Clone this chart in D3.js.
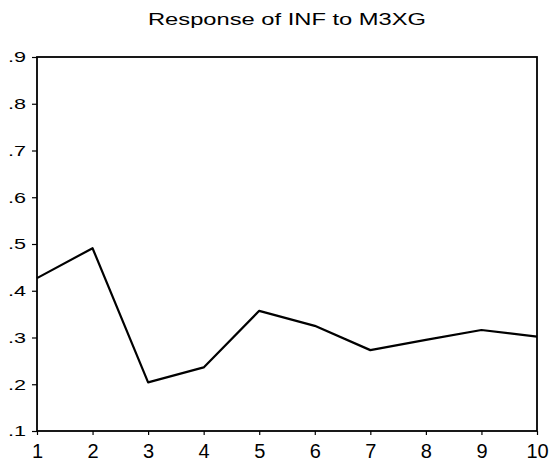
<!DOCTYPE html>
<html>
<head>
<meta charset="utf-8">
<script src="https://cdn.jsdelivr.net/npm/d3@7"></script>
<style>
  body { margin: 0; background: #fff; }
  svg { display: block; }
</style>
</head>
<body>
<script>
// impulse response values
let periods = [1, 2, 3, 4, 5, 6, 7, 8, 9, 10];
let response = [0.427, 0.491, 0.204, 0.236, 0.357, 0.325, 0.273, 0.295, 0.316, 0.302];
let yTicks = [0.1, 0.2, 0.3, 0.4, 0.5, 0.6, 0.7, 0.8, 0.9];
let title = 'Response of INF to M3XG';

let width = 550,
    height = 465;

let margin = { top: 57, bottom: 34, left: 37, right: 13 };

let svg = d3.select('body')
  .append('svg')
    .attr('width', width)
    .attr('height', height)
    .style('background', '#fff')
    .style('font-family', 'Arial, "Liberation Sans", sans-serif');

let xScale = d3.scaleLinear()
  .domain([1, 10])
  .range([margin.left, width - margin.right]);

let yScale = d3.scaleLinear()
  .domain([0.1, 0.9])
  .range([height - margin.bottom, margin.top]);

// frame
svg.append('rect')
  .attr('x', xScale(1))
  .attr('y', yScale(0.9))
  .attr('width', xScale(10) - xScale(1))
  .attr('height', yScale(0.1) - yScale(0.9))
  .attr('fill', 'none')
  .attr('stroke', '#000')
  .attr('stroke-width', 1.8);

let yAxis = svg.append('g')
  .attr('transform', `translate(${margin.left},0)`)
  .call(d3.axisLeft(yScale)
    .tickValues(yTicks)
    .tickSize(5)
    .tickPadding(6)
    .tickFormat(d => d3.format('.1f')(d).replace(/^0/, '')));

let xAxis = svg.append('g')
  .attr('transform', `translate(0,${height - margin.bottom})`)
  .call(d3.axisBottom(xScale)
    .tickValues(periods)
    .tickSize(4)
    .tickPadding(9)
    .tickFormat(d3.format('d')));

[xAxis, yAxis].forEach(a => {
  a.select('.domain').remove();
  a.selectAll('line').attr('stroke', '#000').attr('stroke-width', 1.2);
  a.selectAll('text')
    .attr('fill', '#000')
    .style('font-family', 'Arial, "Liberation Sans", sans-serif');
});

// the scan is stretched sideways, so widen the y labels
yAxis.selectAll('text')
  .style('font-size', '15px')
  .attr('textLength', 18)
  .attr('lengthAdjust', 'spacingAndGlyphs');
xAxis.selectAll('text').style('font-size', '20px');

// response line
svg.append('path')
  .datum(periods.map((p, i) => [p, response[i]]))
  .attr('fill', 'none')
  .attr('stroke', '#000')
  .attr('stroke-width', 2.2)
  .attr('stroke-linejoin', 'round')
  .attr('d', d3.line().x(d => xScale(d[0])).y(d => yScale(d[1])));

svg.append('text')
  .attr('x', (xScale(1) + xScale(10)) / 2)
  .attr('y', 25)
  .attr('text-anchor', 'middle')
  .style('font-size', '17px')
  .attr('textLength', 278)
  .attr('lengthAdjust', 'spacingAndGlyphs')
  .attr('fill', '#000')
  .text(title);
</script>
</body>
</html>
